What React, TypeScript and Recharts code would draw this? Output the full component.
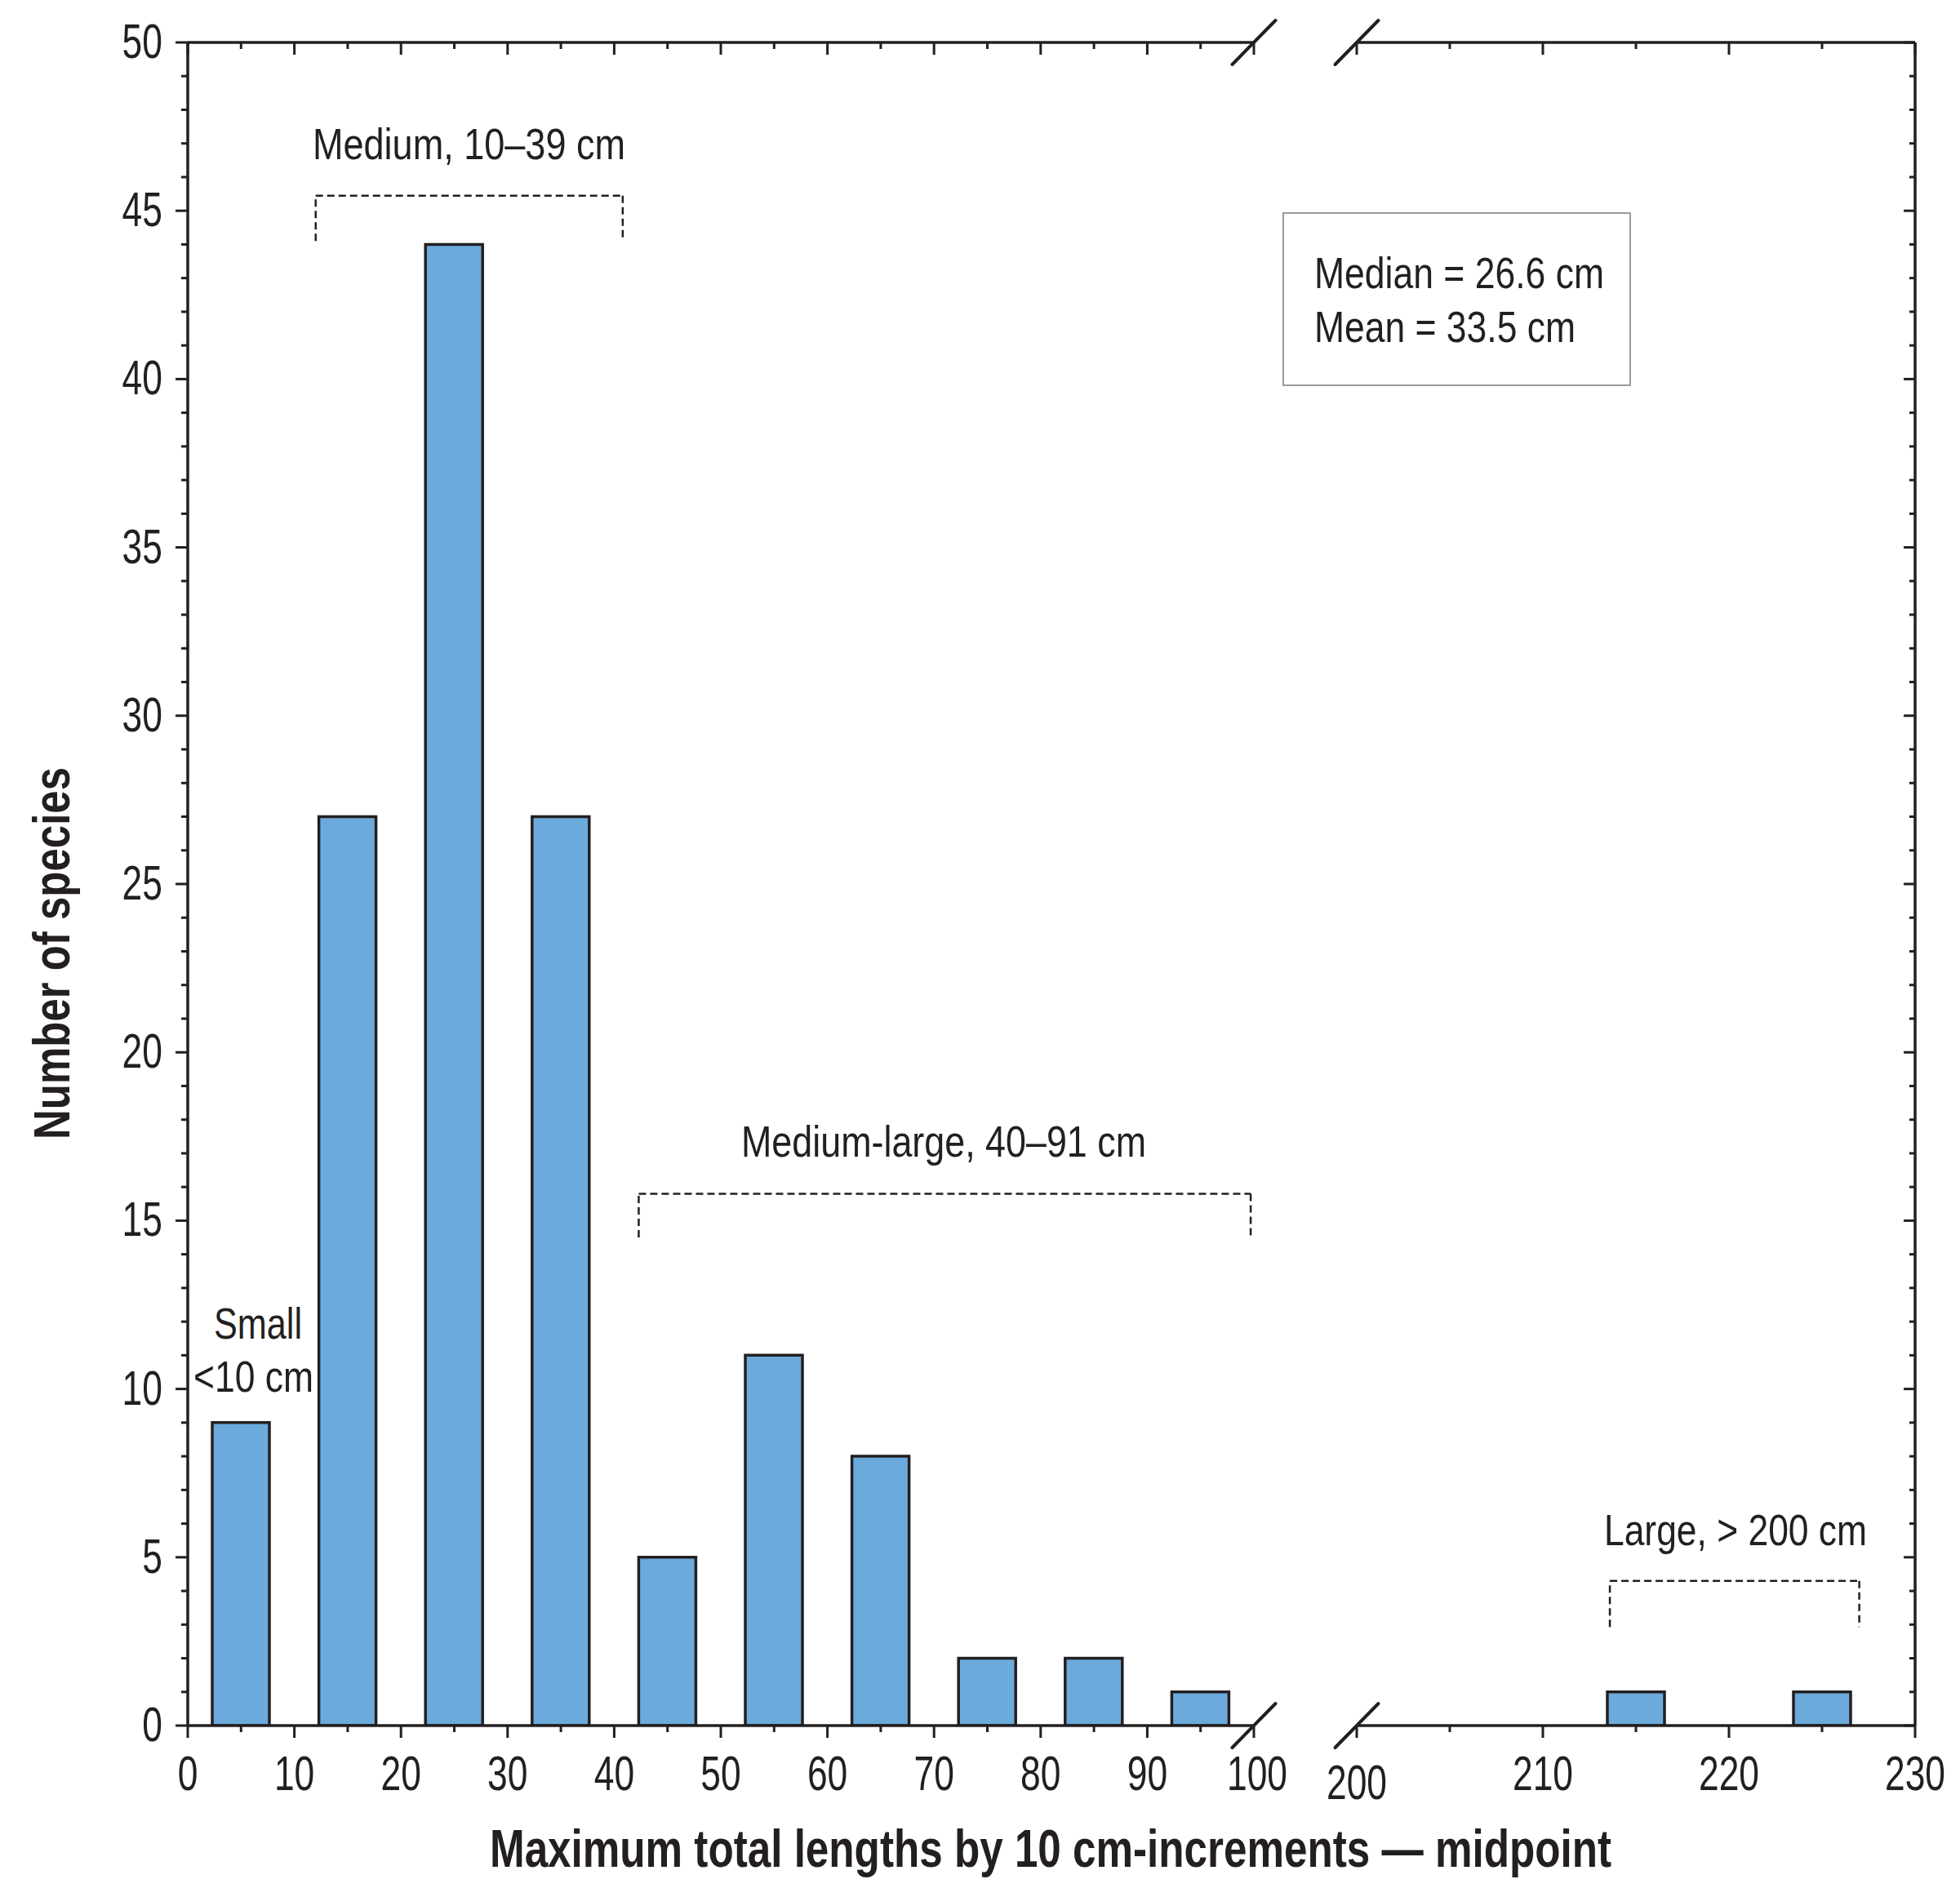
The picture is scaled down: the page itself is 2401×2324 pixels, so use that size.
import { Bar, BarChart, ReferenceLine, XAxis, YAxis } from "recharts"

// Species counts per 10 cm length bin (bin midpoints on the x axis)
const smallMidpoints = [5, 15, 25, 35, 45, 55, 65, 75, 85, 95]
const smallCounts = [9, 27, 44, 27, 5, 11, 8, 2, 2, 1]
const largeMidpoints = [205, 215, 225]
const largeCounts = [0, 1, 1]

// Axis ticks (minor every 5 cm / 1 species, labelled majors every 10 cm / 5 species)
const leftXTicks = [0, 5, 10, 15, 20, 25, 30, 35, 40, 45, 50, 55, 60, 65, 70, 75, 80, 85, 90, 95, 100]
const rightXTicks = [200, 205, 210, 215, 220, 225, 230]
const yMajorTicks = [0, 5, 10, 15, 20, 25, 30, 35, 40, 45, 50]
const yTicks = Array.from({ length: 51 }, (_, i) => i)

// Dashed size-class brackets, in data units
const mediumBracket = { from: 12, to: 40.8, top: 45.45, bottom: 44.1 }
const mediumLargeBracket = { from: 42.3, to: 99.7, top: 15.8, bottom: 14.5 }
const largeBracket = { from: 213.6, to: 227, top: 4.3, bottom: 2.93 }

const smallData = smallMidpoints.map((mid, i) => ({ mid, count: smallCounts[i] }))
const largeData = largeMidpoints.map((mid, i) => ({ mid, count: largeCounts[i] }))

const INK = "#231f20"
const BAR_FILL = "#6caadc"
const FONT = "'Liberation Sans', Arial, Helvetica, sans-serif"

const PAGE_W = 2401
const PAGE_H = 2324
const PLOT_TOP = 52
const PLOT_BOTTOM = 2114
const LEFT_X0 = 230
const LEFT_X1 = 1536
const RIGHT_X0 = 1662
const RIGHT_X1 = 2346
const AXIS_W = 3.5

const LEFT_CHART_W = 1600
const RIGHT_CHART_LEFT = 1500
const RIGHT_CHART_W = 900

function TickText({ x, y, text, anchor }: { x: number; y: number; text: string; anchor: string }) {
  return (
    <text
      transform={`translate(${x},${y}) scale(0.74,1)`}
      textAnchor={anchor}
      fontSize={60}
      fontFamily={FONT}
      fill={INK}
    >
      {text}
    </text>
  )
}

const BottomTick = (props: any) => {
  const { x, y, payload } = props
  const v = payload.value
  const major = v % 10 === 0
  const dx = v === 100 ? 4 : 0
  const dy = v === 200 ? 11 : 0
  return (
    <g>
      <line x1={x} y1={y} x2={x} y2={y + (major ? 15 : 8)} stroke={INK} strokeWidth={3} />
      {major && <TickText x={x + dx} y={y + 79 + dy} text={String(v)} anchor="middle" />}
    </g>
  )
}

const TopTick = (props: any) => {
  const { x, y, payload } = props
  const major = payload.value % 10 === 0
  return <line x1={x} y1={y} x2={x} y2={y + (major ? 15 : 8)} stroke={INK} strokeWidth={3} />
}

const LeftTick = (props: any) => {
  const { x, y, payload } = props
  const v = payload.value
  const major = yMajorTicks.includes(v)
  return (
    <g>
      <line x1={x - (major ? 15 : 8)} y1={y} x2={x} y2={y} stroke={INK} strokeWidth={3} />
      {major && <TickText x={x - 31} y={y + 19} text={String(v)} anchor="end" />}
    </g>
  )
}

const RightTick = (props: any) => {
  const { x, y, payload } = props
  const major = yMajorTicks.includes(payload.value)
  return <line x1={x - (major ? 14 : 7)} y1={y} x2={x} y2={y} stroke={INK} strokeWidth={3} />
}

function bracketLines(b: { from: number; to: number; top: number; bottom: number }, key: string) {
  const common = {
    xAxisId: "bottom",
    stroke: INK,
    strokeWidth: 2.5,
    strokeDasharray: "9 5",
    ifOverflow: "visible" as const,
  }
  return [
    <ReferenceLine key={key + "l"} {...common} segment={[{ x: b.from, y: b.bottom }, { x: b.from, y: b.top }]} />,
    <ReferenceLine key={key + "t"} {...common} segment={[{ x: b.from, y: b.top }, { x: b.to, y: b.top }]} />,
    <ReferenceLine key={key + "r"} {...common} segment={[{ x: b.to, y: b.top }, { x: b.to, y: b.bottom }]} />,
  ]
}

const axisLine = { stroke: INK, strokeWidth: AXIS_W }

function Slash({ cx, cy }: { cx: number; cy: number }) {
  return <line x1={cx - 26.5} y1={cy + 27} x2={cx + 26.5} y2={cy - 27} stroke={INK} strokeWidth={4} strokeLinecap="round" />
}

function Annotations() {
  const txt = { fontFamily: FONT, fontSize: 53, fill: INK, lengthAdjust: "spacingAndGlyphs" as const }
  return (
    <svg
      width={PAGE_W}
      height={PAGE_H}
      style={{ position: "absolute", left: 0, top: 0, pointerEvents: "none" }}
    >
      {/* axis break marks */}
      {[PLOT_TOP, PLOT_BOTTOM].map((y) => (
        <g key={y}>
          <Slash cx={LEFT_X1} cy={y} />
          <Slash cx={RIGHT_X0} cy={y} />
        </g>
      ))}

      {/* summary box */}
      <rect x={1572} y={261} width={425} height={211} fill="#fff" stroke="#9a9a9a" strokeWidth={2} />
      <text x={1610} y={353} textLength={355} {...txt}>Median = 26.6 cm</text>
      <text x={1610} y={419} textLength={320} {...txt}>Mean = 33.5 cm</text>

      {/* size class labels */}
      <text x={383} y={195} textLength={383} {...txt}>Medium, 10–39 cm</text>
      <text x={908} y={1417} textLength={496} {...txt}>Medium-large, 40–91 cm</text>
      <text x={262} y={1640} textLength={108} {...txt}>Small</text>
      <text x={237} y={1705} textLength={147} {...txt}>{"<10 cm"}</text>
      <text x={1965} y={1893} textLength={322} {...txt}>{"Large, > 200 cm"}</text>

      {/* axis titles */}
      <text
        x={600}
        y={2287}
        textLength={1374}
        lengthAdjust="spacingAndGlyphs"
        fontFamily={FONT}
        fontWeight="bold"
        fontSize={65}
        fill={INK}
      >
        Maximum total lengths by 10 cm-increments — midpoint
      </text>
      <text
        transform="translate(85,1168) rotate(-90)"
        textAnchor="middle"
        textLength={456}
        lengthAdjust="spacingAndGlyphs"
        fontFamily={FONT}
        fontWeight="bold"
        fontSize={63}
        fill={INK}
      >
        Number of species
      </text>
    </svg>
  )
}

export default function App() {
  return (
    <div
      style={{
        position: "absolute",
        left: 0,
        top: 0,
        width: PAGE_W,
        height: PAGE_H,
        background: "#fff",
        overflow: "hidden",
      }}
    >
      <div style={{ position: "absolute", left: 0, top: 0 }}>
        <BarChart
          width={LEFT_CHART_W}
          height={PAGE_H}
          data={smallData}
          margin={{ top: PLOT_TOP - 1, right: LEFT_CHART_W - LEFT_X1, bottom: PAGE_H - PLOT_BOTTOM - 60, left: LEFT_X0 - 30 }}
        >
          <XAxis
            xAxisId="bottom"
            dataKey="mid"
            type="number"
            domain={[0, 100]}
            allowDataOverflow
            ticks={leftXTicks}
            interval={0}
            height={60}
            tickSize={0}
            tickMargin={0}
            tickLine={false}
            axisLine={axisLine}
            tick={BottomTick}
          />
          <XAxis
            xAxisId="top"
            dataKey="mid"
            orientation="top"
            type="number"
            domain={[0, 100]}
            allowDataOverflow
            ticks={leftXTicks}
            interval={0}
            height={1}
            tickSize={0}
            tickMargin={0}
            tickLine={false}
            axisLine={axisLine}
            tick={TopTick}
          />
          <YAxis
            type="number"
            domain={[0, 50]}
            allowDataOverflow
            ticks={yTicks}
            interval={0}
            width={30}
            tickSize={0}
            tickMargin={0}
            tickLine={false}
            axisLine={axisLine}
            tick={LeftTick}
          />
          <Bar
            xAxisId="bottom"
            dataKey="count"
            barSize={70}
            fill={BAR_FILL}
            stroke={INK}
            strokeWidth={3.5}
            isAnimationActive={false}
          />
          {bracketLines(mediumBracket, "med")}
          {bracketLines(mediumLargeBracket, "medl")}
        </BarChart>
      </div>

      <div style={{ position: "absolute", left: RIGHT_CHART_LEFT, top: 0 }}>
        <BarChart
          width={RIGHT_CHART_W}
          height={PAGE_H}
          data={largeData}
          margin={{
            top: PLOT_TOP - 1,
            right: RIGHT_CHART_W - (RIGHT_X1 - RIGHT_CHART_LEFT) - 30,
            bottom: PAGE_H - PLOT_BOTTOM - 60,
            left: RIGHT_X0 - RIGHT_CHART_LEFT,
          }}
        >
          <XAxis
            xAxisId="bottom"
            dataKey="mid"
            type="number"
            domain={[200, 230]}
            allowDataOverflow
            ticks={rightXTicks}
            interval={0}
            height={60}
            tickSize={0}
            tickMargin={0}
            tickLine={false}
            axisLine={axisLine}
            tick={BottomTick}
          />
          <XAxis
            xAxisId="top"
            dataKey="mid"
            orientation="top"
            type="number"
            domain={[200, 230]}
            allowDataOverflow
            ticks={rightXTicks}
            interval={0}
            height={1}
            tickSize={0}
            tickMargin={0}
            tickLine={false}
            axisLine={axisLine}
            tick={TopTick}
          />
          <YAxis
            orientation="right"
            type="number"
            domain={[0, 50]}
            allowDataOverflow
            ticks={yTicks}
            interval={0}
            width={30}
            tickSize={0}
            tickMargin={0}
            tickLine={false}
            axisLine={axisLine}
            tick={RightTick}
          />
          <Bar
            xAxisId="bottom"
            dataKey="count"
            barSize={70}
            fill={BAR_FILL}
            stroke={INK}
            strokeWidth={3.5}
            isAnimationActive={false}
          />
          {bracketLines(largeBracket, "large")}
        </BarChart>
      </div>

      <Annotations />
    </div>
  )
}
